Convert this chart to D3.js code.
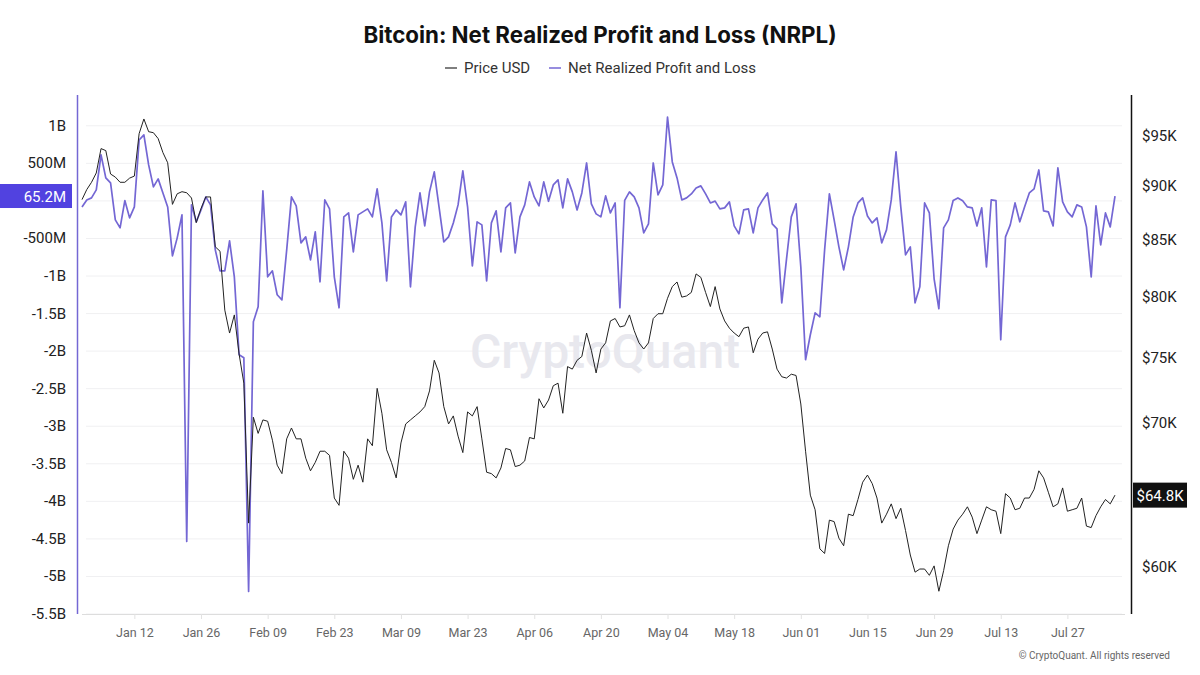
<!DOCTYPE html>
<html>
<head>
<meta charset="utf-8">
<script src="https://cdn.jsdelivr.net/npm/d3@7"></script>
<style>
  body { margin: 0; background: #fff; }
  text { font-family: Roboto, "Noto Sans", sans-serif; }
</style>
</head>
<body>
<svg id="chart"></svg>
<script>
var width = 1200;
var height = 675;

// daily series, starting 2026-01-01
var startDate = new Date(Date.UTC(2026, 0, 1));

// Net Realized Profit and Loss, millions USD
var nrplM = [
  -80, 13, 40, 146, 612, 306, 239, -253, -359, 5,
  -226, -80, 811, 878, 479, 186, 293, 106, -80, -732,
  -492, -186, -4535, -53, -279, -120, 53, -53, -652, -931,
  -931, -532, -1011, -2048, -2088, -5200, -1609, -1410, 133, -1011,
  -931, -1250, -1317, -652, 53, -67, -559, -479, -785, -412,
  -1077, 13, -106, -1011, -1423, -213, -160, -678, -186, -146,
  -106, -213, 160, -293, -1064, -213, -120, -186, -13, -1144,
  -346, 106, -333, 120, 386, -80, -545, -479, -293, -53,
  399, -80, -865, -279, -319, -1064, -293, -133, -678, -93,
  -27, -692, -213, -53, 253, 53, -67, 253, -5, 213,
  279, -93, 293, 120, -120, 106, 505, -40, -173, -213,
  67, -160, -27, -1423, 8, 120, 53, -93, -426, -306,
  505, 80, 213, 1117, 519, 306, 13, 40, 93, 173,
  200, 93, -27, -3, -106, -93, -13, -333, -439, -120,
  -106, -426, -93, 13, 106, -306, -372, -1357, -771, -213,
  -40, -878, -2115, -1782, -1490, -1543, -652, 93, -253, -612,
  -918, -612, -213, -27, 40, -200, -293, -226, -559, -386,
  13, 652, -80, -718, -612, -1357, -1144, -27, -160, -1037,
  -1436, -359, -253, 5, 40, 2, -80, -93, -333, -93,
  -878, 13, 4, -1849, -479, -319, -27, -279, -80, 106,
  160, 412, -133, -146, -333, 439, -13, -146, -213, -53,
  -80, -346, -1011, -67, -585, -160, -346, 65.2
];

// Price USD, thousands
var priceK = [
  88.75, 89.7, 90.4, 91.3, 93.7, 93.5, 91.2, 90.9, 90.4, 90.4,
  90.8, 91.0, 95.2, 96.7, 95.4, 95.3, 94.7, 93.3, 92.3, 88.3,
  89.3, 89.5, 89.4, 88.9, 86.6, 87.9, 89.0, 89.0, 84.4, 84.0,
  78.9, 77.0, 78.5, 75.3, 73.0, 62.9, 70.4, 69.2, 70.2, 70.1,
  68.7, 66.9, 66.3, 68.8, 69.6, 68.8, 68.8, 67.4, 66.5, 67.1,
  67.9, 67.9, 67.6, 64.6, 64.1, 67.9, 67.4, 65.9, 66.9, 65.7,
  68.8, 68.3, 72.6, 70.7, 68.0, 67.1, 66.0, 68.5, 69.9, 70.2,
  70.5, 70.8, 71.2, 72.4, 74.8, 73.8, 71.2, 69.9, 70.5, 69.0,
  67.8, 70.8, 70.5, 71.2, 68.8, 66.4, 66.3, 66.0, 66.7, 68.1,
  68.0, 66.8, 66.9, 67.2, 68.9, 68.8, 71.8, 71.1, 71.7, 72.8,
  73.0, 70.7, 74.3, 74.1, 74.8, 75.1, 77.0, 75.6, 73.8, 75.7,
  76.2, 78.0, 78.2, 77.5, 77.6, 78.5, 77.2, 76.2, 75.7, 76.2,
  78.2, 78.6, 78.6, 79.9, 80.9, 81.3, 80.0, 80.1, 80.4, 82.0,
  81.7, 80.4, 79.2, 80.9, 79.0, 78.0, 77.4, 77.0, 76.7, 77.4,
  77.5, 75.4, 76.5, 77.0, 77.1, 75.7, 74.1, 73.5, 73.4, 73.7,
  73.6, 71.4, 67.9, 64.8, 63.8, 61.2, 60.9, 63.1, 63.0, 61.9,
  61.4, 63.5, 63.4, 64.5, 65.7, 66.2, 65.6, 64.6, 62.9, 63.5,
  64.2, 63.2, 63.9, 62.4, 60.8, 59.7, 59.9, 59.9, 59.5, 60.1,
  58.5, 59.8, 61.4, 62.5, 63.1, 63.5, 64.0, 63.3, 62.2, 63.1,
  64.0, 63.8, 63.7, 62.2, 64.9, 64.6, 63.8, 63.9, 64.6, 64.6,
  65.2, 66.5, 66.0, 65.0, 64.0, 64.2, 65.3, 63.7, 63.8, 63.9,
  64.6, 62.7, 62.6, 63.4, 64.0, 64.5, 64.2, 64.8
];

var leftTicksB = [1, 0.5, 0, -0.5, -1, -1.5, -2, -2.5, -3, -3.5, -4, -4.5, -5, -5.5];
var rightTicksK = [60, 65, 70, 75, 80, 85, 90, 95];
var lastNrplLabel = "65.2M";
var lastPriceLabel = "$64.8K";

var purple = "#7467d4";
var dark = "#222222";

var data = nrplM.map(function (v, i) {
  return { date: d3.utcDay.offset(startDate, i), nrpl: v * 1e6, price: priceK[i] * 1000 };
});

var svg = d3.select("#chart")
  .attr("width", width)
  .attr("height", height);

var plotTop = 95, plotBottom = 614;

var x = d3.scaleUtc()
  .domain([startDate, data[data.length - 1].date])
  .range([82, 1115]);

var yL = d3.scaleLinear()
  .domain([-5.5e9, 1.41e9])
  .range([plotBottom, plotTop]);

var yR = d3.scaleLog()
  .domain([57100, 99200])
  .range([plotBottom, plotTop]);

// title + legend
svg.append("text")
  .attr("x", 600).attr("y", 43)
  .attr("text-anchor", "middle")
  .style("font-family", "Inter, Roboto, sans-serif")
  .style("font-weight", 700)
  .style("font-size", "22.3px")
  .style("fill", "#111")
  .text("Bitcoin: Net Realized Profit and Loss (NRPL)");

var legend = [
  { name: "Price USD", color: "#555", x: 445 },
  { name: "Net Realized Profit and Loss", color: purple, x: 549 }
];
var lg = svg.selectAll(".lg").data(legend).enter().append("g")
  .attr("transform", function (d) { return "translate(" + d.x + ",68)"; });
lg.append("line")
  .attr("x1", 0).attr("x2", 12).attr("y1", 0).attr("y2", 0)
  .attr("stroke", function (d) { return d.color; })
  .attr("stroke-width", 1.5);
lg.append("text")
  .attr("x", 19).attr("y", 5)
  .style("font-size", "15px")
  .style("fill", "#333")
  .text(function (d) { return d.name; });

// grid
svg.append("g").selectAll("line")
  .data(leftTicksB)
  .enter().append("line")
  .attr("x1", 86).attr("x2", 1122)
  .attr("y1", function (d) { return yL(d * 1e9); })
  .attr("y2", function (d) { return yL(d * 1e9); })
  .attr("stroke", "#f0f0f2");

// watermark
svg.append("text")
  .attr("x", 605).attr("y", 368)
  .attr("text-anchor", "middle")
  .style("font-size", "48px")
  .style("font-weight", 500)
  .style("fill", "#e8e8ee")
  .text("CryptoQuant");

// x axis
var xTicks = d3.utcDay.range(new Date(Date.UTC(2026, 0, 12)), data[data.length - 1].date, 14);
var xAxis = svg.append("g")
  .attr("transform", "translate(0," + plotBottom + ")")
  .call(d3.axisBottom(x).tickValues(xTicks).tickFormat(d3.utcFormat("%b %d")).tickSize(5).tickPadding(9));
xAxis.select(".domain").remove();
xAxis.insert("line", ":first-child")
  .attr("x1", 82).attr("x2", 1125).attr("y1", 0.5).attr("y2", 0.5)
  .attr("stroke", "#dddddd");
xAxis.selectAll(".tick line").attr("stroke", "#e2e2e2");
xAxis.selectAll(".tick text")
  .style("font-size", "12.5px")
  .style("font-family", "Roboto, sans-serif")
  .style("fill", "#666");

// left axis
svg.append("line")
  .attr("x1", 77.5).attr("x2", 77.5).attr("y1", plotTop).attr("y2", plotBottom)
  .attr("stroke", purple).attr("stroke-width", 1.5);
svg.append("g").selectAll("text")
  .data(leftTicksB.filter(function (d) { return d !== 0; }))
  .enter().append("text")
  .attr("x", 66)
  .attr("y", function (d) { return yL(d * 1e9) + 5; })
  .attr("text-anchor", "end")
  .style("font-size", "15px")
  .style("fill", "#222")
  .text(function (d) { return Math.abs(d) >= 1 ? d + "B" : (d * 1000) + "M"; });

// right axis
svg.append("line")
  .attr("x1", 1131.5).attr("x2", 1131.5).attr("y1", plotTop).attr("y2", plotBottom)
  .attr("stroke", "#111").attr("stroke-width", 1.5);
svg.append("g").selectAll("text")
  .data(rightTicksK.filter(function (d) { return d !== 65; }))
  .enter().append("text")
  .attr("x", 1142)
  .attr("y", function (d) { return yR(d * 1000) + 5; })
  .style("font-size", "15px")
  .style("fill", "#222")
  .text(function (d) { return "$" + d + "K"; });

// lines
var nrplLine = d3.line()
  .x(function (d) { return x(d.date); })
  .y(function (d) { return yL(d.nrpl); });
var priceLine = d3.line()
  .x(function (d) { return x(d.date); })
  .y(function (d) { return yR(d.price); });

svg.append("path")
  .datum(data)
  .attr("d", nrplLine)
  .attr("fill", "none")
  .attr("stroke", purple)
  .attr("stroke-width", 1.7)
  .attr("stroke-linejoin", "round");

svg.append("path")
  .datum(data)
  .attr("d", priceLine)
  .attr("fill", "none")
  .attr("stroke", dark)
  .attr("stroke-width", 1)
  .attr("stroke-linejoin", "round");

// last value badges
var last = data[data.length - 1];
var ly = yL(last.nrpl);
svg.append("rect")
  .attr("x", 0).attr("y", ly - 12).attr("width", 72).attr("height", 24)
  .attr("fill", "#5142e0");
svg.append("text")
  .attr("x", 66).attr("y", ly + 5.5)
  .attr("text-anchor", "end")
  .style("font-size", "15px")
  .style("fill", "#fff")
  .text(lastNrplLabel);

var ry = yR(last.price);
svg.append("rect")
  .attr("x", 1133).attr("y", ry - 12.5).attr("width", 54).attr("height", 25)
  .attr("fill", "#111");
svg.append("text")
  .attr("x", 1160).attr("y", ry + 5.5)
  .attr("text-anchor", "middle")
  .style("font-size", "15px")
  .style("fill", "#fff")
  .text(lastPriceLabel);

// footer
svg.append("text")
  .attr("x", 1170).attr("y", 659)
  .attr("text-anchor", "end")
  .style("font-size", "10px")
  .style("fill", "#666")
  .text("\u00a9 CryptoQuant. All rights reserved");
</script>
</body>
</html>
